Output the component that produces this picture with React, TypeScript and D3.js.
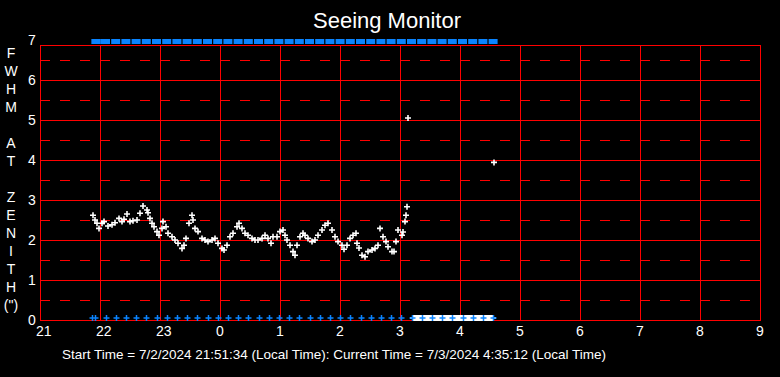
import React from "react";
import * as d3 from "d3";

// Times are minutes after 21:00 local time (7/2/2024)
const fwhmMinutes = [
  53, 55, 57, 59, 62, 64, 68, 72, 75, 79, 82, 84, 87, 90, 93, 97, 100, 103, 107, 108,
  110, 112, 114, 117, 119, 122, 123, 126, 128, 132, 135, 138, 142, 144, 146, 149, 152, 153, 155, 158,
  162, 165, 168, 172, 175, 178, 182, 184, 187, 190, 193, 197, 199, 202, 205, 208, 212, 215, 218, 222,
  225, 228, 231, 233, 237, 240, 243, 245, 247, 250, 253, 255, 257, 260, 263, 265, 268, 272, 275, 278,
  282, 285, 288, 292, 295, 298, 302, 304, 307, 310, 313, 316, 317, 319, 322, 325, 328, 332, 335, 338,
  340, 343, 346, 348, 352, 354, 356, 358, 362, 363, 365, 366, 367, 368, 454,
];
const fwhmValues = [
  2.62, 2.5, 2.42, 2.29, 2.42, 2.46, 2.35, 2.38, 2.43, 2.54, 2.46, 2.52, 2.65, 2.46, 2.48, 2.5, 2.67, 2.85, 2.75, 2.68,
  2.54, 2.42, 2.33, 2.21, 2.12, 2.29, 2.46, 2.33, 2.17, 2.08, 2.0, 1.92, 1.79, 1.87, 2.04, 2.42, 2.62, 2.5, 2.29, 2.21,
  2.04, 2.0, 1.96, 2.0, 2.04, 1.92, 1.79, 1.75, 1.87, 2.08, 2.17, 2.33, 2.42, 2.29, 2.17, 2.12, 2.04, 2.0, 2.0, 2.04,
  2.12, 2.04, 1.92, 2.08, 2.08, 2.21, 2.25, 2.12, 2.0, 1.87, 1.71, 1.62, 1.87, 2.08, 2.17, 2.12, 2.04, 1.96, 2.0, 2.12,
  2.25, 2.37, 2.42, 2.25, 2.08, 1.96, 1.87, 1.77, 1.87, 2.04, 2.12, 2.17, 1.92, 1.8, 1.62, 1.58, 1.71, 1.75, 1.79, 1.87,
  2.29, 2.08, 1.96, 1.83, 1.71, 1.71, 1.96, 2.25, 2.12, 2.2, 2.46, 2.62, 2.83, 5.05, 3.94,
];

// White markers drawn on the zero line (no measurement)
const zeroMinutes = [
  373, 375, 377, 379, 381, 383, 385, 387, 389, 391, 393, 395, 397, 399, 401, 403, 405, 407, 409, 411,
  413, 415, 417, 419, 421, 423, 425, 427, 429, 431, 433, 435, 437, 439, 441, 443, 445, 447, 449, 451, 453,
];

// Blue sample markers (bottom and top rows)
const sampleMinutes = [
  51.6, 55.3, 65.5, 75.7, 85.9, 96.1, 106.3, 116.5, 126.7, 136.9, 147.1, 157.3, 167.5, 177.7, 187.9,
  198.1, 208.3, 218.5, 228.7, 238.9, 249.1, 259.3, 269.5, 279.7, 289.9, 300.1, 310.3, 320.5, 330.7,
  340.9, 351.1, 361.3, 371.5, 381.7, 391.9, 402.1, 412.3, 422.5, 432.7, 442.9, 453.1,
];
const topBandValue = 7;
const bottomBandValue = 0;

const xTickLabels = ["21", "22", "23", "0", "1", "2", "3", "4", "5", "6", "7", "8", "9"];
const yTickLabels = ["0", "1", "2", "3", "4", "5", "6", "7"];
const yTitleLetters = ["F", "W", "H", "M", "", "A", "T", "", "Z", "E", "N", "I", "T", "H", "(\")"];

const title = "Seeing Monitor";
const footer = "Start Time = 7/2/2024 21:51:34 (Local Time): Current Time = 7/3/2024 4:35:12 (Local Time)";

const W = 780;
const H = 377;
const RED = "#ff0000";
const BLUE = "#0a84ff";
const FONT = "'Liberation Sans', Arial, sans-serif";

export default function App() {
  const x = d3.scaleLinear().domain([0, 720]).range([40, 760]);
  const y = d3.scaleLinear().domain([0, 6.875]).range([320, 45]);

  const plus = (cx: number, cy: number, r: number) =>
    `M${cx - r},${cy}h${2 * r}M${cx},${cy - r}v${2 * r}`;

  const intLines = d3.range(1, 7);
  const halfLines = d3.range(0.5, 7, 1);
  const hours = xTickLabels.map((_, i) => i * 60);

  return (
    <div style={{ position: "fixed", left: 0, top: 0, width: W, height: H, background: "#000" }}>
      <svg width={W} height={H} style={{ display: "block", background: "#000" }} fontFamily={FONT}>
        <rect x={0} y={0} width={W} height={H} fill="#000" />
        <text x={387} y={28} fill="#fff" fontSize={22} textAnchor="middle">
          {title}
        </text>

        {/* grid */}
        {halfLines.map((v) => (
          <line key={"h" + v} x1={x(0)} x2={x(720)} y1={y(v)} y2={y(v)} stroke={RED} strokeWidth={1}
            strokeDasharray="10,10" shapeRendering="crispEdges" />
        ))}
        {intLines.map((v) => (
          <line key={"i" + v} x1={x(0)} x2={x(720)} y1={y(v)} y2={y(v)} stroke={RED} strokeWidth={1}
            shapeRendering="crispEdges" />
        ))}
        {hours.slice(1, -1).map((m) => (
          <line key={"v" + m} x1={x(m)} x2={x(m)} y1={y(6.875)} y2={y(0)} stroke={RED} strokeWidth={1}
            shapeRendering="crispEdges" />
        ))}
        <rect x={x(0)} y={y(6.875)} width={x(720) - x(0)} height={y(0) - y(6.875)} fill="none" stroke={RED}
          strokeWidth={1} shapeRendering="crispEdges" />

        {/* tick labels */}
        {yTickLabels.map((t, i) => (
          <text key={"yt" + t} x={28} y={y(i) + 5} fill="#fff" fontSize={14}>
            {t}
          </text>
        ))}
        {xTickLabels.map((t, i) => (
          <text key={"xt" + t} x={x(hours[i]) - 4} y={336} fill="#fff" fontSize={14}>
            {t}
          </text>
        ))}
        {yTitleLetters.map((c, i) => (
          <text key={"yl" + i} x={11} y={58 + i * 18} fill="#fff" fontSize={14} textAnchor="middle">
            {c}
          </text>
        ))}

        {/* top sample band */}
        {sampleMinutes.map((m, i) => (
          <g key={"tb" + i}>
            <rect x={Math.max(x(m) - 4.5, x(51.6))} y={y(topBandValue) - 1} width={9} height={5} fill={BLUE} />
          </g>
        ))}

        {/* zero-line white markers */}
        <path
          d={zeroMinutes.map((m) => plus(x(m), y(bottomBandValue) - 2, 3)).join("")}
          stroke="#fff" strokeWidth={2} fill="none" shapeRendering="crispEdges"
        />
        {/* bottom sample markers */}
        <path
          d={sampleMinutes.map((m) => plus(Math.round(x(m)) + 0.5, y(bottomBandValue) - 2, 3)).join("")}
          stroke={BLUE} strokeWidth={1.5} fill="none"
        />

        {/* FWHM data */}
        <path
          d={fwhmMinutes.map((m, i) => plus(x(m), y(fwhmValues[i]), 3)).join("")}
          stroke="#fff" strokeWidth={1.6} fill="none"
        />

        <text x={62} y={359} fill="#fff" fontSize={13.5}>
          {footer}
        </text>
      </svg>
    </div>
  );
}
